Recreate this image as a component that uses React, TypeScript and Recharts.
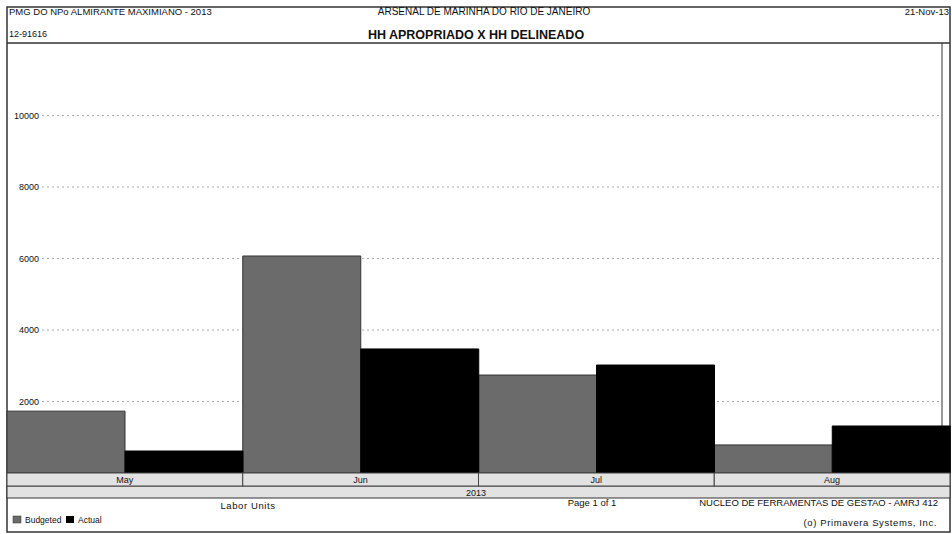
import React from "react";
import { BarChart, Bar, XAxis, YAxis, CartesianGrid } from "recharts";

const months = ["May", "Jun", "Jul", "Aug"];
const budgeted = [1730, 6070, 2740, 785];
const actual = [615, 3470, 3020, 1315];
const yTicks = [2000, 4000, 6000, 8000, 10000];
const year = "2013";

const data = months.map((m, i) => ({ month: m, budgeted: budgeted[i], actual: actual[i] }));

const W = 952;
const H = 534;
const LEFT = 7;
const RIGHT = 950;
const PLOT_TOP = 44;
const PLOT_BOTTOM = 473;
const BAND = 13;
const FONT = "'Liberation Sans', Arial, sans-serif";
const catWidth = (RIGHT - LEFT) / months.length;

const MonthTick = (props: any) => {
  const { x, payload } = props;
  return (
    <g>
      <rect x={x - catWidth / 2} y={PLOT_BOTTOM} width={catWidth} height={BAND} fill="#e2e2e2" stroke="#444" strokeWidth={1} />
      <text x={x} y={PLOT_BOTTOM + 10} textAnchor="middle" fontSize={9} fontFamily={FONT} fill="#111">
        {payload.value}
      </text>
    </g>
  );
};

const ValueTick = (props: any) => {
  const { y, payload } = props;
  return (
    <text x={39} y={y + 3} textAnchor="end" fontSize={9} fontFamily={FONT} fill="#111">
      {payload.value}
    </text>
  );
};

function App() {
  const txt = { fontFamily: FONT, fill: "#111" };
  return (
    <div style={{ position: "absolute", left: 0, top: 0, width: W, height: H, background: "#fff" }}>
      <svg width={W} height={H} style={{ position: "absolute", left: 0, top: 0 }}>
        <rect x={LEFT} y={7} width={RIGHT - LEFT} height={525} fill="#fff" stroke="#333" strokeWidth={1.5} />
        <line x1={LEFT} x2={RIGHT} y1={43} y2={43} stroke="#333" strokeWidth={1.5} />
        <text x={9} y={15} fontSize={9.5} {...txt}>PMG DO NPo ALMIRANTE MAXIMIANO - 2013</text>
        <text x={484} y={15} fontSize={10} textAnchor="middle" {...txt}>ARSENAL DE MARINHA DO RIO DE JANEIRO</text>
        <text x={949} y={15} fontSize={9.5} textAnchor="end" {...txt}>21-Nov-13</text>
        <text x={9} y={37} fontSize={9} {...txt}>12-91616</text>
        <text x={476} y={39} fontSize={12.5} fontWeight="bold" textAnchor="middle" {...txt}>HH APROPRIADO X HH DELINEADO</text>
        <line x1={942} x2={942} y1={43} y2={PLOT_BOTTOM} stroke="#333" strokeWidth={1} />
        <rect x={LEFT} y={PLOT_BOTTOM + BAND} width={RIGHT - LEFT} height={BAND - 1} fill="#e2e2e2" stroke="#333" strokeWidth={1} />
        <text x={476} y={PLOT_BOTTOM + BAND + 10} fontSize={9} textAnchor="middle" {...txt}>{year}</text>
        <text x={248} y={509} fontSize={9.5} letterSpacing={0.6} textAnchor="middle" {...txt}>Labor Units</text>
        <text x={592} y={506} fontSize={9.5} textAnchor="middle" {...txt}>Page 1 of 1</text>
        <text x={938} y={506} fontSize={9.5} textAnchor="end" {...txt}>NUCLEO DE FERRAMENTAS DE GESTAO - AMRJ 412</text>
        <text x={937} y={526} fontSize={9.5} letterSpacing={0.6} textAnchor="end" {...txt}>(o) Primavera Systems, Inc.</text>
        <rect x={13} y={516} width={8} height={7} fill="#6b6b6b" stroke="#333" strokeWidth={0.5} />
        <text x={25} y={523} fontSize={8.5} {...txt}>Budgeted</text>
        <rect x={66} y={516} width={8} height={7} fill="#000" />
        <text x={78} y={523} fontSize={8.5} {...txt}>Actual</text>
      </svg>
      <div style={{ position: "absolute", left: 0, top: 0 }}>
        <BarChart
          width={W}
          height={H}
          data={data}
          margin={{ top: PLOT_TOP, right: W - RIGHT, left: LEFT, bottom: 0 }}
          barCategoryGap={0}
          barGap={0}
        >
          <CartesianGrid
            vertical={false}
            x={42}
            width={898}
            stroke="#aaa"
            strokeDasharray="2 3"
            horizontalValues={yTicks}
          />
          <XAxis dataKey="month" height={H - PLOT_BOTTOM} tick={<MonthTick />} axisLine={false} tickLine={false} interval={0} />
          <YAxis
            domain={[0, 12000]}
            ticks={yTicks}
            mirror
            width={40}
            axisLine={false}
            tickLine={false}
            tick={<ValueTick />}
          />
          <Bar dataKey="budgeted" fill="#6b6b6b" stroke="#333" strokeWidth={1} isAnimationActive={false} />
          <Bar dataKey="actual" fill="#000" stroke="#000" strokeWidth={1} isAnimationActive={false} />
        </BarChart>
      </div>
    </div>
  );
}

export default App;
